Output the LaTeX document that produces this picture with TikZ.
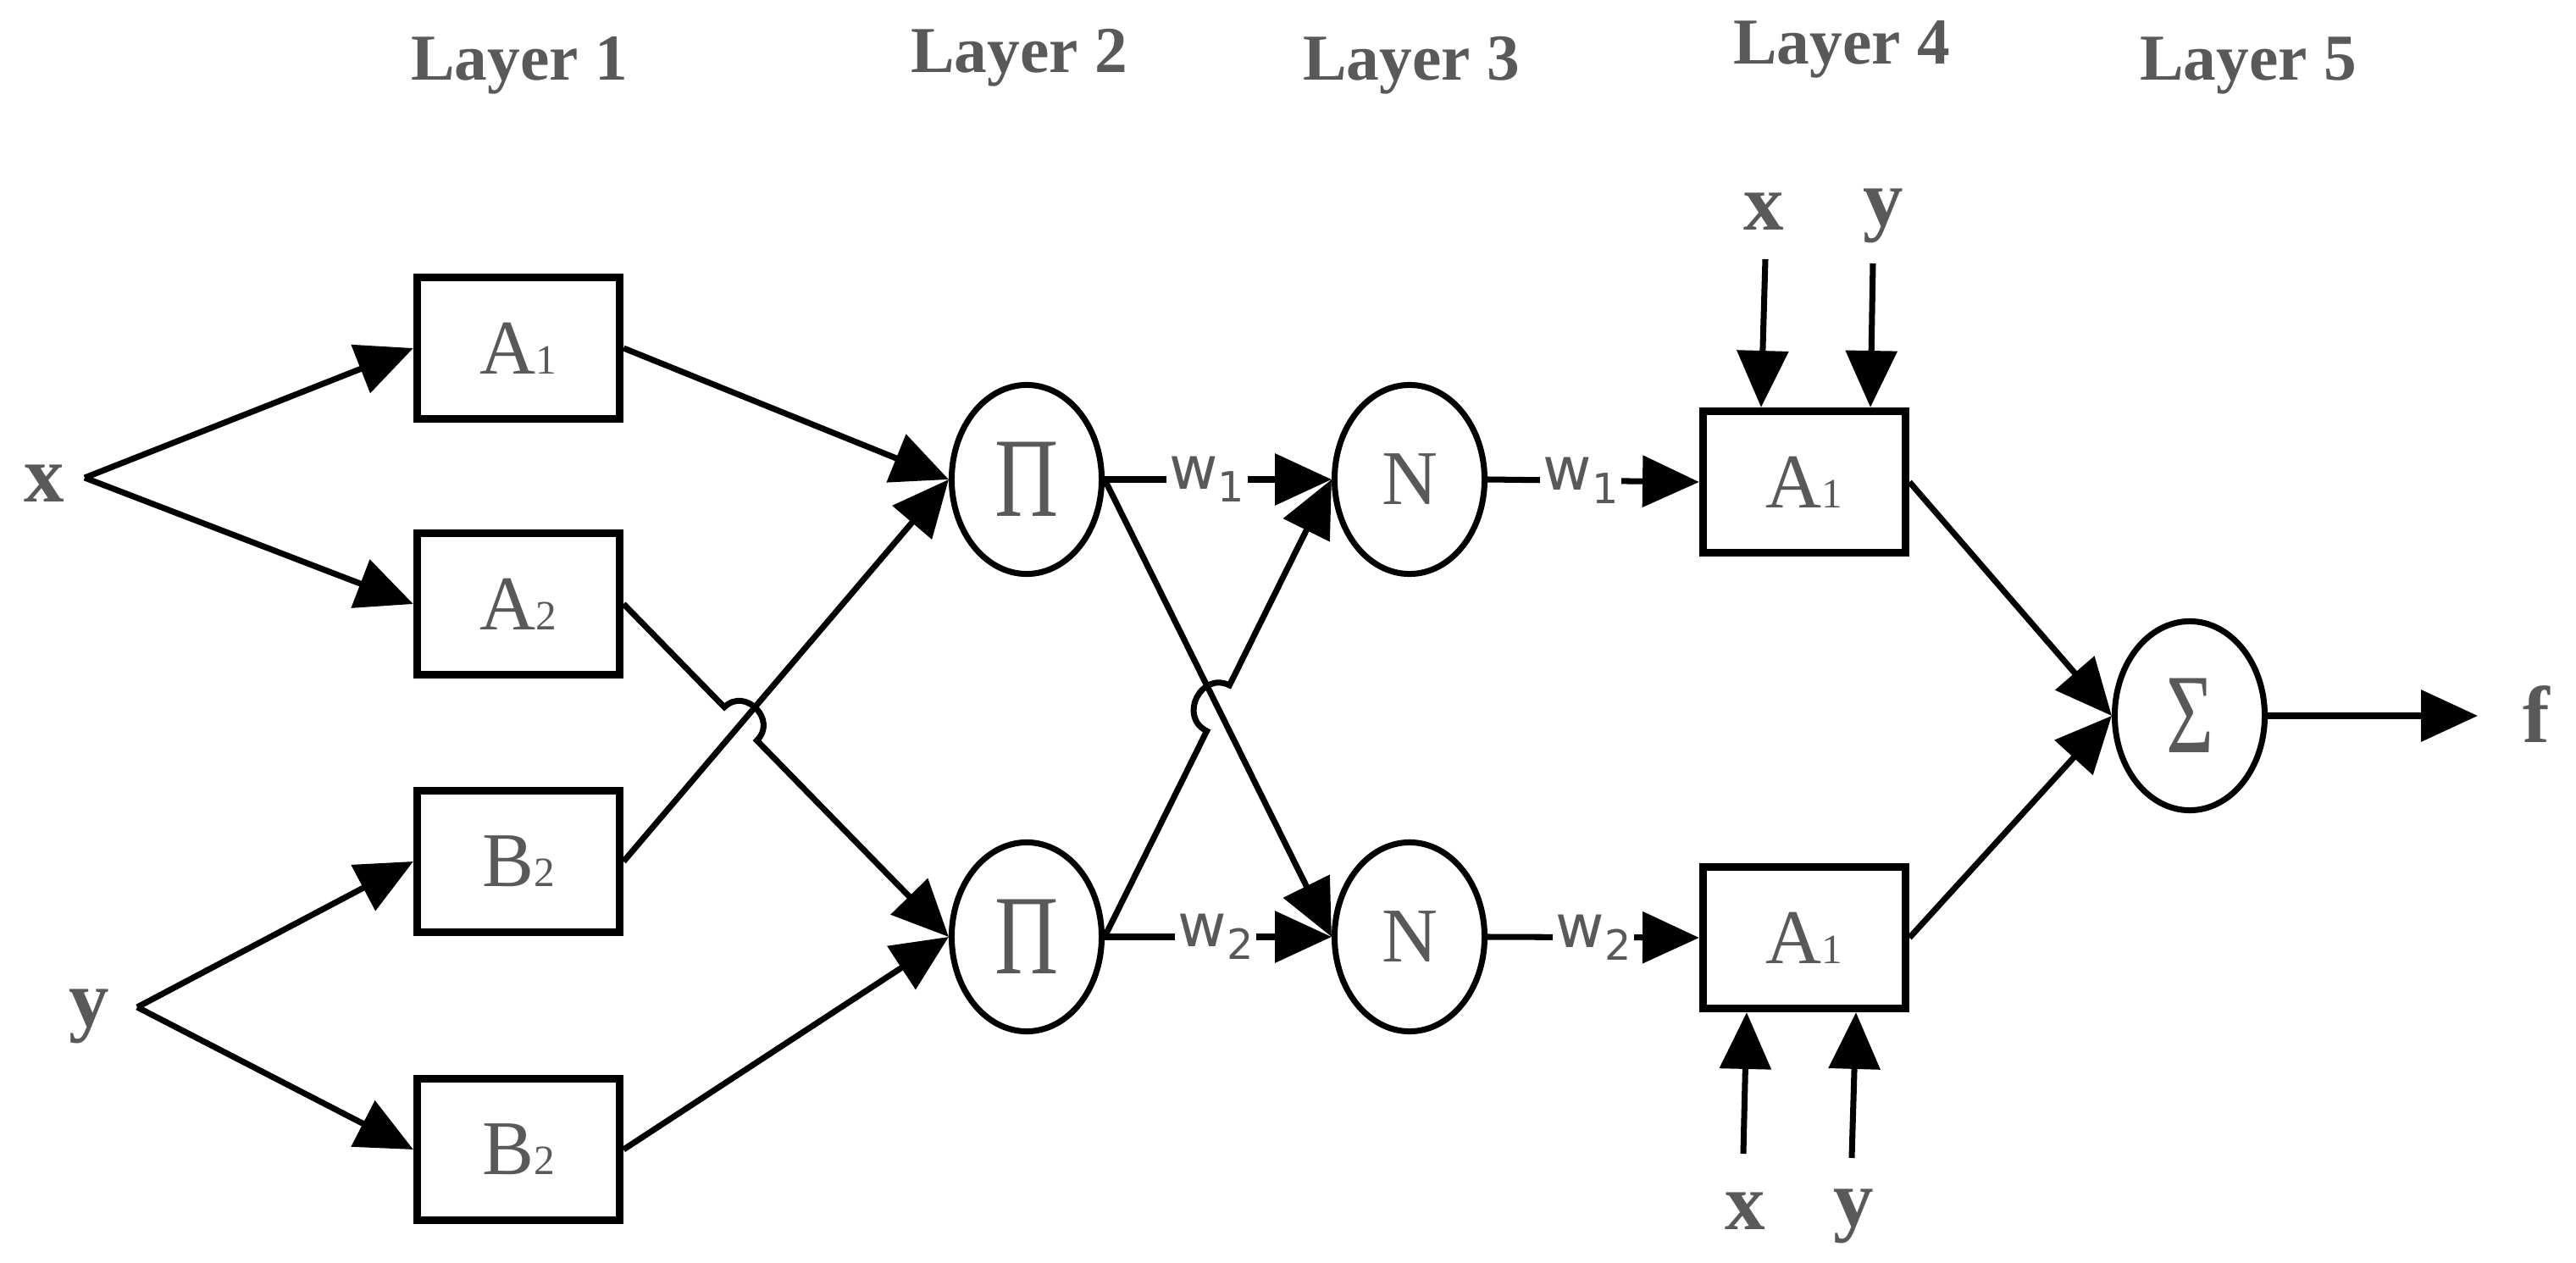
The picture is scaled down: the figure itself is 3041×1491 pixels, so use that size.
\documentclass[tikz,border=0pt]{standalone}
\usepackage{fontspec}
\usepackage{graphicx}
\usepackage{xcolor}
\setmainfont{Liberation Serif}
\newfontfamily\weightfont{DejaVu Sans}
\usetikzlibrary{arrows.meta,shapes.geometric,calc}
\definecolor{labelgray}{RGB}{89,89,89}
\newcommand{\smalldigit}[1]{{\fontsize{14}{14}\selectfont #1}}
\newcommand{\wlabel}[1]{{\weightfont w\raisebox{-0.4ex}{\fontsize{14}{14}\selectfont #1}}}
\newcommand{\bigglyph}[2]{\scalebox{#1}[1]{\fontsize{38}{38}\selectfont #2}}
\tikzset{
    layer-box/.style = {draw, rectangle, line width=2.6pt, minimum width=2.39cm, minimum height=1.67cm, inner sep=0pt, text=labelgray, font=\fontsize{26}{26}\selectfont},
    layer-oval/.style = {draw, ellipse, line width=2pt, minimum width=1.77cm, minimum height=2.23cm, inner sep=0pt, text=labelgray, font=\fontsize{26}{26}\selectfont},
    layer-title/.style = {text=labelgray, font=\bfseries\fontsize{22}{22}\selectfont, anchor=base},
    input-label/.style = {text=labelgray, font=\bfseries\fontsize{27}{27}\selectfont, inner sep=0pt},
    weight-label/.style = {fill=white, text=labelgray, inner sep=1pt, font=\fontsize{20}{20}\selectfont},
    net-arrow/.style = {line width=2pt, -{Triangle[length=19pt, width=17pt]}},
}

\begin{document}
\begin{tikzpicture}[x=0.01cm, y=-0.01cm]
\useasboundingbox (0,0) rectangle (3041,1491);

% layer titles
\node[layer-title] (title-1) at (613,95) {Layer 1};
\node[layer-title] (title-2) at (1203,86) {Layer 2};
\node[layer-title] (title-3) at (1666,95) {Layer 3};
\node[layer-title] (title-4) at (2174,76) {Layer 4};
\node[layer-title] (title-5) at (2654,95) {Layer 5};

% inputs
\node[input-label] (in-x) at (52,571) {x};
\node[input-label] (in-y) at (105,1200) {y};
\coordinate (x-fork) at (100,564);
\coordinate (y-fork) at (162,1189);

% layer 1
\node[layer-box] (a1) at (612,411) {A\smalldigit{1}};
\node[layer-box] (a2) at (612,713) {A\smalldigit{2}};
\node[layer-box] (b1) at (612,1017) {B\smalldigit{2}};
\node[layer-box] (b2) at (612,1357) {B\smalldigit{2}};

% layer 2 and 3
\node[layer-oval] (pi1) at (1212,566) {\bigglyph{0.78}{Π}};
\node[layer-oval] (pi2) at (1212,1106) {\bigglyph{0.78}{Π}};
\node[layer-oval] (n1) at (1664,566) {N};
\node[layer-oval] (n2) at (1664,1106) {N};

% layer 4
\node[layer-box] (r1) at (2130,569) {A\smalldigit{1}};
\node[layer-box] (r2) at (2130,1107) {A\smalldigit{1}};
\node[input-label] (r1-x) at (2082,250) {x};
\node[input-label] (r1-y) at (2223,255) {y};
\node[input-label] (r2-x) at (2060,1430) {x};
\node[input-label] (r2-y) at (2188,1436) {y};
\coordinate (r1-x-in) at (2084,306);
\coordinate (r1-y-in) at (2211,311);
\coordinate (r2-x-in) at (2058,1362);
\coordinate (r2-y-in) at (2186,1367);

% layer 5
\node[layer-oval] (sigma) at (2585,845) {\bigglyph{0.72}{Σ}};
\node[input-label] (out-f) at (2994,843) {f};
\coordinate (f-in) at (2925,845);

% connections
\draw[net-arrow] (x-fork) -- (a1.west);
\draw[net-arrow] (x-fork) -- (a2.west);
\draw[net-arrow] (y-fork) -- (b1.west);
\draw[net-arrow] (y-fork) -- (b2.west);

\draw[net-arrow] (a1.east) -- (pi1.west);
\draw[net-arrow] (b1.east) -- (pi1.west);
\draw[net-arrow] (a2.east) -- ($(a2.east)!0.31!(pi2.west)$)
    to[bend left=90, looseness=1.6] ($(a2.east)!0.41!(pi2.west)$) -- (pi2.west);
\draw[net-arrow] (b2.east) -- (pi2.west);

\draw[net-arrow] (pi1.east) -- node[weight-label, pos=0.45] {\wlabel{1}} (n1.west);
\draw[net-arrow] (pi2.east) -- node[weight-label, pos=0.49] {\wlabel{2}} (n2.west);
\draw[net-arrow] (pi1.east) -- (n2.west);
\draw[net-arrow] (pi2.east) -- ($(pi2.east)!0.45!(n1.west)$)
    to[bend left=90, looseness=1.6] ($(pi2.east)!0.55!(n1.west)$) -- (n1.west);

\draw[net-arrow] (n1.east) -- node[weight-label, pos=0.44] {\wlabel{1}} (r1.west);
\draw[net-arrow] (n2.east) -- node[weight-label, pos=0.5] {\wlabel{2}} (r2.west);

\draw[net-arrow] (r1-x-in) -- ([xshift=-0.51cm]r1.north);
\draw[net-arrow] (r1-y-in) -- ([xshift=0.78cm]r1.north);
\draw[net-arrow] (r2-x-in) -- ([xshift=-0.68cm]r2.south);
\draw[net-arrow] (r2-y-in) -- ([xshift=0.61cm]r2.south);

\draw[net-arrow] (r1.east) -- (sigma.west);
\draw[net-arrow] (r2.east) -- (sigma.west);
\draw[net-arrow] (sigma.east) -- (f-in);
\end{tikzpicture}
\end{document}
